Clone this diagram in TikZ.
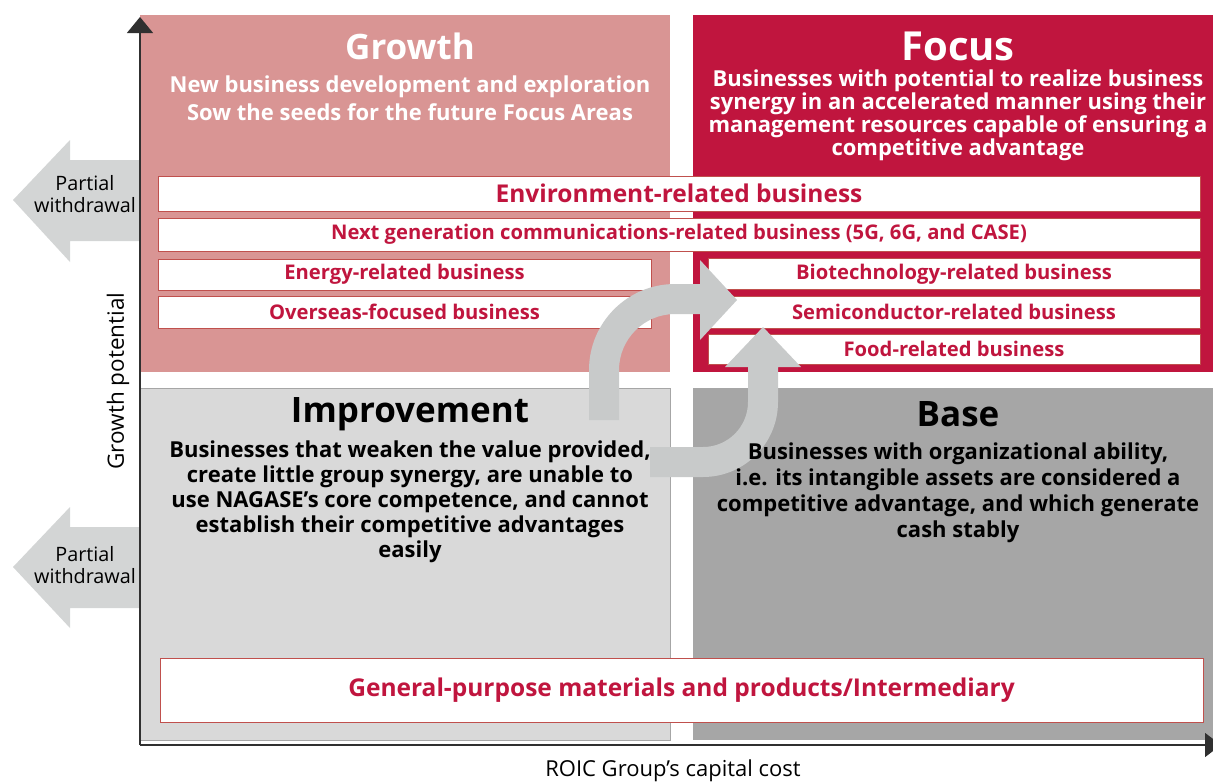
\documentclass[tikz,border=0pt]{standalone}
\usepackage{fontspec}
\setmainfont{Open Sans}
\usetikzlibrary{arrows.meta, positioning}

\definecolor{growthpink}{HTML}{D99594}
\definecolor{focusred}{HTML}{C0153E}
\definecolor{improvegrey}{HTML}{D9D9D9}
\definecolor{basegrey}{HTML}{A6A6A6}
\definecolor{arrowgrey}{HTML}{D3D5D5}
\definecolor{cyclegrey}{HTML}{C8CACA}
\definecolor{barline}{HTML}{C0504D}
\definecolor{axisline}{HTML}{303030}

\begin{document}
\begin{tikzpicture}[
        x=1pt,
        y=-1pt,
        title/.style={font=\bfseries\fontsize{35}{40}\selectfont, inner sep=0pt},
        body/.style={font=\bfseries\fontsize{22}{25}\selectfont, align=center, inner sep=0pt},
        bar/.style={draw=barline, line width=0.8pt, fill=white, text=focusred,
            font=\bfseries\fontsize{20.2}{22}\selectfont, inner sep=0pt},
        axislabel/.style={font=\fontsize{19.8}{22}\selectfont, inner sep=0pt},
        withdraw/.style={fill=arrowgrey},
        cyclearrow/.style={fill=cyclegrey}
    ]
    \useasboundingbox (0,0) rectangle (1213,782);

    % quadrants
    \fill[growthpink] (140,15) rectangle (670,372);
    \fill[focusred] (693,15) rectangle (1213,372);
    \filldraw[fill=improvegrey, draw=gray!70] (140,388) rectangle (670,740);
    \fill[basegrey] (693,388) rectangle (1213,740);

    % partial withdrawal arrows
    \fill[withdraw] (140,160) -- (70,160) -- (70,140) -- (13,200) -- (70,262) -- (70,241) -- (140,241) -- cycle;
    \fill[withdraw] (140,527) -- (70,527) -- (70,507) -- (13,567) -- (70,628) -- (70,608) -- (140,608) -- cycle;
    \node[axislabel, align=center] (pw1) at (85,194) {Partial\\withdrawal};
    \node[axislabel, align=center] (pw2) at (85,565) {Partial\\withdrawal};

    % axes
    \coordinate (origin) at (140,745);
    \coordinate (ytop) at (140,17);
    \coordinate (xend) at (1221,745);
    \draw[axisline, line width=1.4pt, -{Triangle[length=16pt, width=26pt]}] (origin) -- (ytop);
    \draw[axisline, line width=1.4pt, -{Triangle[length=16pt, width=24pt]}] (origin) -- (xend);
    \node[axislabel, rotate=90, font=\fontsize{22.5}{24}\selectfont] (ylab) at (118,381) {Growth potential};
    \node[axislabel, font=\fontsize{22}{24}\selectfont] (xlab) at (673,771) {ROIC Group’s capital cost};

    % business bars
    \node[bar, minimum width=1042, minimum height=35, font=\bfseries\fontsize{24.5}{26}\selectfont] (env) at (679,193.5) {Environment-related business};
    \node[bar, minimum width=1042, minimum height=33] (nextgen) at (679,234.5) {Next generation communications-related business (5G, 6G, and CASE)};
    \node[bar, minimum width=493, minimum height=31] (energy) at (404.5,274.5) {Energy-related business};
    \node[bar, minimum width=493, minimum height=32] (overseas) at (404.5,312) {Overseas-focused business};
    \node[bar, minimum width=492, minimum height=31] (bio) at (954,274) {Biotechnology-related business};
    \node[bar, minimum width=492, minimum height=32] (semi) at (954,312) {Semiconductor-related business};
    \node[bar, minimum width=492, minimum height=30] (food) at (954,349) {Food-related business};
    \node[bar, minimum width=1043, minimum height=64, font=\bfseries\fontsize{24.5}{26}\selectfont] (general) at (681.5,690) {General-purpose materials and products/Intermediary};

    % cycle arrows
    \fill[cyclearrow] (589,420) -- (589,370) arc[start angle=180, end angle=270, radius=86]
        -- (700,284) -- (700,260) -- (737,300) -- (700,340) -- (700,314) -- (675,314)
        arc[start angle=270, end angle=180, radius=56] -- (619,420) -- cycle;
    \fill[cyclearrow] (650,447) -- (703,447) arc[start angle=90, end angle=0, radius=45]
        -- (748,367) -- (725,367) -- (763,327) -- (801,367) -- (778,367) -- (778,402)
        arc[start angle=0, end angle=90, radius=75] -- (650,477) -- cycle;

    % quadrant texts
    \node[title, text=white] (growth) at (410,46) {Growth};
    \node[body, text=white, font=\bfseries\fontsize{22}{28}\selectfont] (growthtxt) at (410,98)
        {New business development and exploration\\Sow the seeds for the future Focus Areas};
    \node[title, text=white, font=\bfseries\fontsize{40}{42}\selectfont] (focus) at (958,46) {Focus};
    \node[body, text=white, font=\bfseries\fontsize{22}{21.5}\selectfont] (focustxt) at (958,115)
        {Businesses with potential to realize business\\synergy in an accelerated manner using their\\management resources capable of ensuring a\\competitive advantage};
    \node[title] (improve) at (410,414) {Improvement};
    \node[body] (improvetxt) at (410,502)
        {Businesses that weaken the value provided,\\create little group synergy, are unable to\\use NAGASE’s core competence, and cannot\\establish their competitive advantages\\easily};
    \node[title] (base) at (958,414) {Base};
    \node[body, font=\bfseries\fontsize{22}{26}\selectfont] (basetxt) at (958,493)
        {Businesses with organizational ability,\\i.e. its intangible assets are considered a\\competitive advantage, and which generate\\cash stably};
\end{tikzpicture}
\end{document}
